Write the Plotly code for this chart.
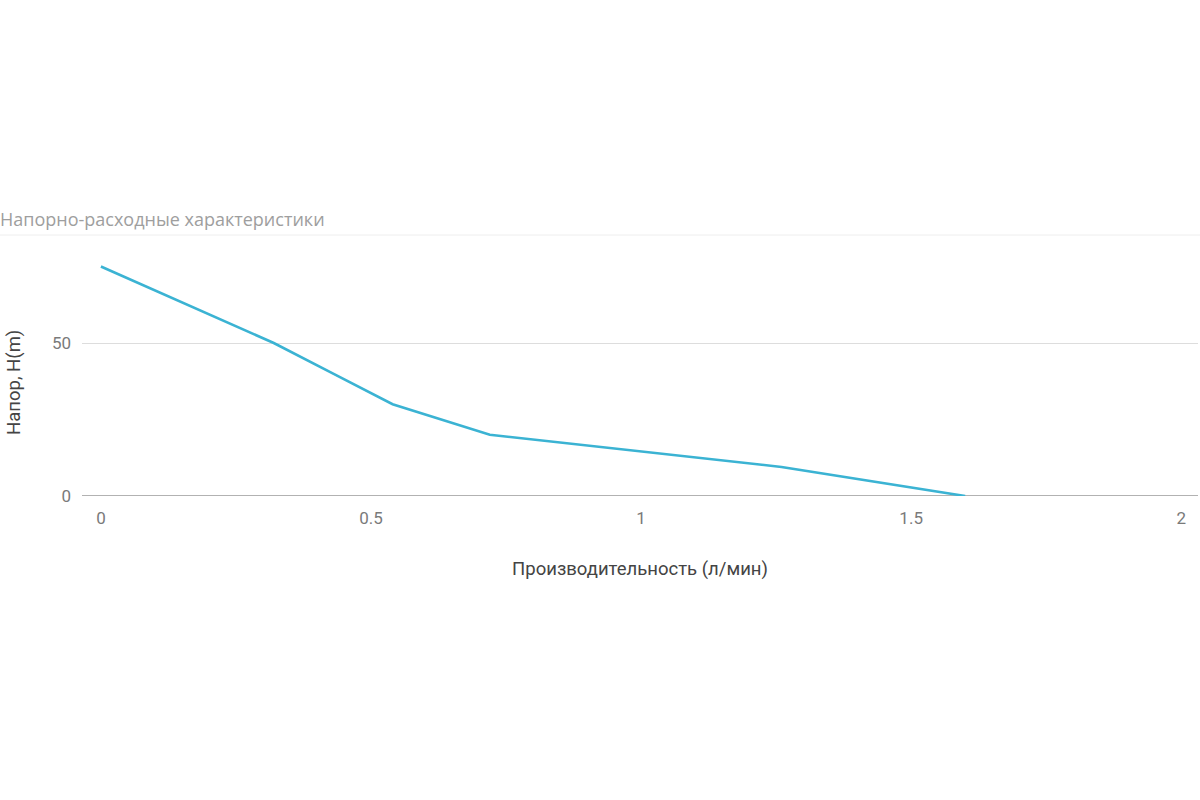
import plotly.graph_objects as go

flow = [0, 0.32, 0.43, 0.54, 0.72, 1.26, 1.6]
head = [75, 50, 40, 30, 20, 9.5, 0]
x_ticks = [0, 0.5, 1, 1.5, 2]
x_tick_labels = ["0", "0.5", "1", "1.5", "2"]
y_ticks = [0, 50]
y_tick_labels = ["0", "50"]

fig = go.Figure()
fig.add_trace(go.Scatter(
    x=flow, y=head, mode="lines",
    line=dict(color="#3bb3d3", width=2.6),
    hoverinfo="x+y", showlegend=False,
))

fig.update_layout(
    width=1200, height=800,
    paper_bgcolor="white", plot_bgcolor="white",
    margin=dict(l=82, r=2, t=235, b=304),
    font=dict(family="Roboto, sans-serif", color="#7a7a7a", size=17),
    xaxis=dict(
        range=[-0.035, 2.031], tickvals=x_ticks, ticktext=x_tick_labels,
        showgrid=False, zeroline=False, showline=False, ticks="",
        ticklabelstandoff=10,
        title=dict(text="Производительность (л/мин)",
                   font=dict(size=18.5, color="#444444"), standoff=35),
    ),
    yaxis=dict(
        range=[0, 85.3], tickvals=y_ticks, ticktext=y_tick_labels,
        showgrid=True, gridcolor="#dddddd", gridwidth=1,
        zeroline=False, showline=False, ticks="",
        ticklabelstandoff=10,
    ),
    annotations=[
        dict(
            text="Напорно-расходные характеристики", xref="paper", yref="paper",
            x=-82/1116, y=1, xanchor="left", yanchor="bottom", yshift=2, xshift=-2,
            showarrow=False, font=dict(size=18, color="#9e9e9e", family="Open Sans, sans-serif"),
        ),
        dict(
            text="Напор, H(m)", xref="paper", yref="paper",
            x=-82/1116, y=(496 - 383) / 261, xanchor="center", yanchor="middle",
            xshift=14, textangle=-90, showarrow=False,
            font=dict(size=18.5, color="#444444"),
        ),
    ],
    shapes=[
        dict(type="line", xref="paper", yref="paper", x0=-82/1116, x1=1.0018,
             y0=1, y1=1, line=dict(color="#eeeeee", width=1)),
        dict(type="line", xref="paper", yref="y", x0=0, x1=1,
             y0=0, y1=0, line=dict(color="#999999", width=1.5), layer="below"),
    ],
)

fig.write_html("out.html", config={"displayModeBar": False},
               post_script="document.body.style.margin='0px';")
